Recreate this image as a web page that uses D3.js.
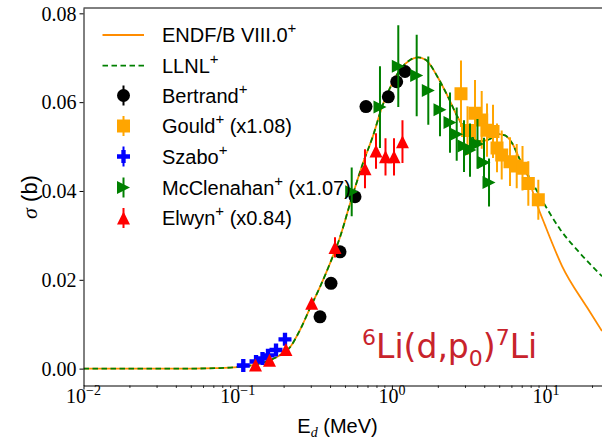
<!DOCTYPE html>
<html><head><meta charset="utf-8">
<script src="https://cdn.jsdelivr.net/npm/d3@7"></script>
<style>html,body{margin:0;padding:0;background:#fff}svg{display:block}</style>
</head><body>
<svg id="chart" width="602" height="439"></svg>
<script>
// ---------------- data ----------------
const curveE = [0.01,0.03,0.05,0.0713,0.1,0.1295,0.162,0.188,0.2183,0.2535,0.2944,0.3418,0.3968,0.4607,0.535,0.6495,0.7543,0.8627,0.9721,1.129,1.311,1.477,1.664,1.991,2.311,2.684,3.21,3.726,4.327,4.877,5.414,6.009,6.772];
const curveS = [0,0,0.00001,0.0001,0.00035,0.0009,0.0019,0.003,0.0048,0.0087,0.0136,0.0184,0.0237,0.0296,0.0371,0.0463,0.0524,0.0589,0.0632,0.0673,0.0695,0.0701,0.0695,0.0655,0.0612,0.0565,0.0526,0.0512,0.0517,0.0528,0.0525,0.0508,0.0470];
const endfTailE = [7.633,8.472,9.838,12.69,18.42,23.04];
const endfTailS = [0.0432,0.0382,0.0323,0.0231,0.0138,0.00845];
const llnlTailE = [7.633,8.73,9.838,12.31,16.59,23.04];
const llnlTailS = [0.0436,0.040,0.0368,0.0314,0.026,0.0208];

const bertrandE = [0.3418,0.4028,0.4607,0.5764,0.679,0.948,1.074,1.216];
const bertrandS = [0.01167,0.0192,0.0263,0.0387,0.0590,0.0612,0.0646,0.0669];
const bertrandErr = [0.0008,0.0008,0.0008,0.001,0.0012,0.0012,0.0012,0.0012];

const gouldE = [2.806,3.459,3.823,3.093,4.139,4.526,4.805,5.154,5.834,6.448,7.031,7.668,8.903];
const gouldS = [0.0619,0.0575,0.0560,0.0536,0.0537,0.0534,0.0497,0.0481,0.0466,0.0456,0.0451,0.0417,0.0380];
const gouldErr = [0.0075,0.0075,0.0065,0.0055,0.006,0.006,0.0055,0.0055,0.0055,0.005,0.005,0.005,0.0045];

const szaboE = [0.1087,0.1315,0.1448,0.1572,0.1772,0.2026];
const szaboS = [0.0007,0.0016,0.0023,0.0030,0.0042,0.0066];
const szaboErr = [0.0003,0.0003,0.0003,0.0003,0.0004,0.0005];

const mcclenE = [0.5487,0.837,1.100,1.448,1.722,2.051,2.381,2.632,2.935,3.210,3.590,3.956,4.264];
const mcclenS = [0.0398,0.0589,0.0681,0.0660,0.0626,0.0583,0.0554,0.0528,0.0501,0.0492,0.0506,0.0464,0.0419];
const mcclenErr = [0.0055,0.0092,0.0092,0.0092,0.0077,0.006,0.0068,0.006,0.0058,0.006,0.0056,0.0056,0.0054];

const elwynE = [0.1304,0.1608,0.2056,0.3019,0.4276,0.669,0.7887,0.9089,1.032,1.171];
const elwynS = [0.0008,0.0019,0.0043,0.0147,0.0273,0.0450,0.0490,0.0477,0.0477,0.0511];
const elwynErr = [0.0003,0.0003,0.0004,0.001,0.0023,0.0044,0.004,0.0042,0.0042,0.0048];

const yTicks = [0,0.02,0.04,0.06,0.08];
const xTicks = [0.01,0.1,1,10];
const xTickExp = ["\u22122","\u22121","0","1"];

// ---------------- layout ----------------
const svg = d3.select("#chart");
const pL = 83.5, pT = 8, pB = 385.5, pR = 83.5 + 154.2*Math.log10(2400);
const x = d3.scaleLog().domain([0.01, 24]).range([pL, pR]);
const y = d3.scaleLinear().domain([-0.0038, 0.0812]).range([pB, pT]);
const serif = "'Liberation Serif','DejaVu Serif',serif";
const sans = "'Liberation Sans','DejaVu Sans',sans-serif";

svg.append("defs").append("clipPath").attr("id","clip")
  .append("rect").attr("x",pL).attr("y",pT).attr("width",pR-pL).attr("height",pB-pT);
const plot = svg.append("g").attr("clip-path","url(#clip)");

const line = d3.line().x(d=>x(d[0])).y(d=>y(d[1])).curve(d3.curveMonotoneX);
const endf = curveE.map((e,i)=>[e,curveS[i]]).concat(endfTailE.map((e,i)=>[e,endfTailS[i]]));
const llnl = curveE.map((e,i)=>[e,curveS[i]]).concat(llnlTailE.map((e,i)=>[e,llnlTailS[i]]));
plot.append("path").attr("d",line(endf)).attr("fill","none").attr("stroke","#ff8c00").attr("stroke-width",1.8);
plot.append("path").attr("d",line(llnl)).attr("fill","none").attr("stroke","#008000").attr("stroke-width",1.8).attr("stroke-dasharray","5.5,3.5");

const MS = 13;
function markerPath(type, s){
  const h = s/2;
  if(type==="circle") return d3.symbol().type(d3.symbolCircle).size(Math.PI*h*h)();
  if(type==="square") return `M${-h},${-h}H${h}V${h}H${-h}Z`;
  if(type==="plus"){ const a=s/6; return `M${-a},${-h}H${a}V${-a}H${h}V${a}H${a}V${h}H${-a}V${a}H${-h}V${-a}H${-a}Z`; }
  if(type==="right") return `M${h},0L${-h},${-h}L${-h},${h}Z`;
  if(type==="up") return `M0,${-h}L${h},${h}L${-h},${h}Z`;
}
function series(E,S,Err,type,color){
  const g = plot.append("g");
  E.forEach((e,i)=>{
    g.append("line").attr("x1",x(e)).attr("x2",x(e)).attr("y1",y(S[i]-Err[i])).attr("y2",y(S[i]+Err[i]))
      .attr("stroke",color).attr("stroke-width",2);
  });
  E.forEach((e,i)=>{
    g.append("path").attr("d",markerPath(type,MS)).attr("transform",`translate(${x(e)},${y(S[i])})`).attr("fill",color);
  });
}
series(bertrandE,bertrandS,bertrandErr,"circle","#000000");
series(gouldE,gouldS,gouldErr,"square","#ffa500");
series(szaboE,szaboS,szaboErr,"plus","#0000ff");
series(mcclenE,mcclenS,mcclenErr,"right","#008000");
series(elwynE,elwynS,elwynErr,"up","#ff0000");

// ---------------- axes ----------------
const yAxis = svg.append("g").attr("transform",`translate(${pL},0)`)
  .call(d3.axisLeft(y).tickValues(yTicks).tickFormat(d3.format(".2f")).tickSize(4).tickSizeOuter(0));
yAxis.selectAll("text").attr("font-family",serif).attr("font-size",20).attr("fill","#000").attr("x",-7).attr("dy","0.34em");
yAxis.selectAll("line,path").attr("stroke","#000");

const xAxis = svg.append("g").attr("transform",`translate(0,${pB})`)
  .call(d3.axisBottom(x).tickValues(xTicks).tickFormat("").tickSize(4).tickSizeOuter(0));
xAxis.selectAll("line,path").attr("stroke","#000");
const minor = [];
for(let d=0.01; d<20; d*=10) for(let k=2;k<=9;k++){ if(d*k<24) minor.push(d*k); }
svg.append("g").selectAll("line").data(minor).join("line")
  .attr("x1",d=>x(d)).attr("x2",d=>x(d)).attr("y1",pB).attr("y2",pB+2.5).attr("stroke","#000").attr("stroke-width",0.8);
xTicks.forEach((t,i)=>{
  const tx = svg.append("text").attr("y",pB+17).attr("font-family",serif).attr("fill","#000").attr("text-anchor","middle").attr("x",x(t));
  tx.append("tspan").attr("font-size",20).text("10");
  tx.append("tspan").attr("font-size",14).attr("dy",-8).text(xTickExp[i]);
});
svg.append("line").attr("x1",pL).attr("x2",pR).attr("y1",pT).attr("y2",pT).attr("stroke","#000");

// axis labels
const xl = svg.append("text").attr("x",337.5).attr("y",433).attr("text-anchor","middle").attr("fill","#000").attr("font-family",sans).attr("font-size",20);
xl.append("tspan").text("E");
xl.append("tspan").attr("font-family",serif).attr("font-style","italic").attr("font-size",14).attr("dy",4).text("d");
xl.append("tspan").attr("dy",-4).text(" (MeV)");
const yl = svg.append("text").attr("transform","translate(37,197) rotate(-90)").attr("text-anchor","middle").attr("fill","#000").attr("font-family",sans).attr("font-size",22);
yl.append("tspan").attr("font-family",serif).attr("font-style","italic").text("\u03c3");
yl.append("tspan").text(" (b)");

// ---------------- legend ----------------
const legendItems = [
  {label:"ENDF/B VIII.0", extra:"", kind:"line", color:"#ff8c00", y:35},
  {label:"LLNL", extra:"", kind:"dash", color:"#008000", y:65.7},
  {label:"Bertrand", extra:"", kind:"circle", color:"#000000", y:95.5},
  {label:"Gould", extra:" (x1.08)", kind:"square", color:"#ffa500", y:126},
  {label:"Szabo", extra:"", kind:"plus", color:"#0000ff", y:156.5},
  {label:"McClenahan", extra:" (x1.07)", kind:"right", color:"#008000", y:187.5},
  {label:"Elwyn", extra:" (x0.84)", kind:"up", color:"#ff0000", y:218}
];
const lg = svg.append("g");
legendItems.forEach(it=>{
  if(it.kind==="line"||it.kind==="dash"){
    const l = lg.append("line").attr("x1",102.5).attr("x2",144).attr("y1",it.y).attr("y2",it.y).attr("stroke",it.color).attr("stroke-width",1.8);
    if(it.kind==="dash") l.attr("stroke-dasharray","5.5,3.5");
  } else {
    lg.append("line").attr("x1",123.5).attr("x2",123.5).attr("y1",it.y-10).attr("y2",it.y+10).attr("stroke",it.color).attr("stroke-width",2);
    lg.append("path").attr("d",markerPath(it.kind,MS)).attr("transform",`translate(123.5,${it.y})`).attr("fill",it.color);
  }
  const t = lg.append("text").attr("x",162).attr("y",it.y+7).attr("font-family",sans).attr("font-size",20).attr("fill","#000");
  t.append("tspan").text(it.label);
  t.append("tspan").attr("font-size",15).attr("dy",-9).text("+");
  if(it.extra) t.append("tspan").attr("dy",9).text(it.extra);
});

// ---------------- annotation ----------------
const ann = svg.append("text").attr("x",362).attr("y",358).attr("font-family","'DejaVu Sans',sans-serif").attr("fill","#c8232c").attr("font-size",33);
ann.append("tspan").attr("font-size",22).attr("dy",-13).text("6");
ann.append("tspan").attr("dy",13).text("Li(d,p");
ann.append("tspan").attr("font-size",22).attr("dy",8).text("0");
ann.append("tspan").attr("dy",-8).text(")");
ann.append("tspan").attr("font-size",22).attr("dy",-13).text("7");
ann.append("tspan").attr("dy",13).text("Li");
</script>
</body></html>
